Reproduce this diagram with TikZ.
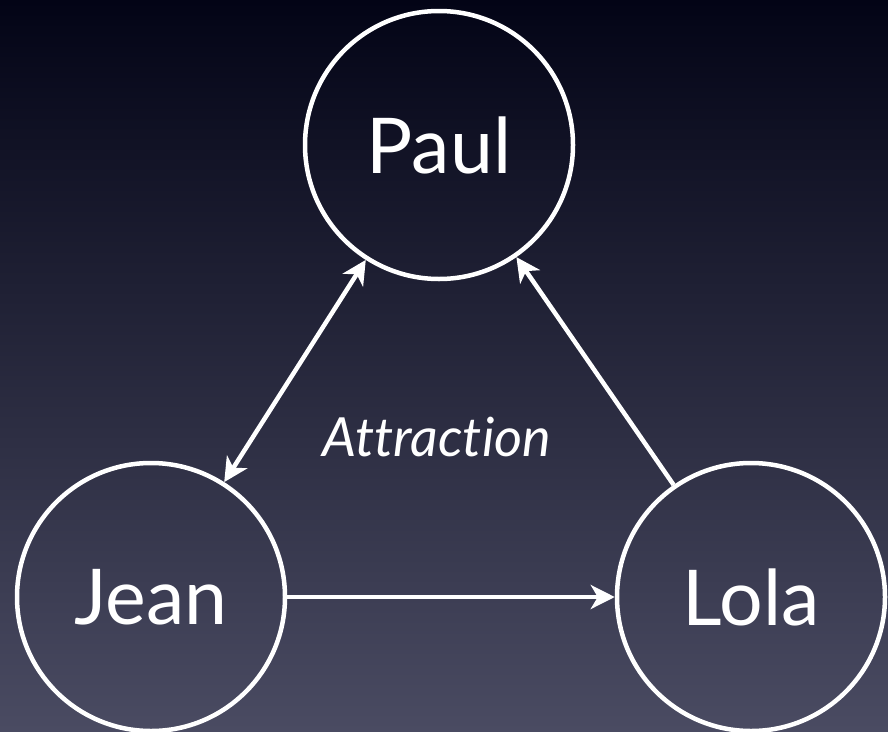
\documentclass[tikz,border=0pt]{standalone}
\usepackage{fontspec}
\setmainfont{Lato}[Ligatures=NoCommon]
\usetikzlibrary{arrows.meta}
\definecolor{bgtop}{RGB}{3,4,22}
\definecolor{bgbottom}{RGB}{74,75,98}
\begin{document}
\begin{tikzpicture}
  [x=1pt, y=-1pt,
  person/.style={circle, draw=white, line width=4.5pt, text=white, inner sep=0pt,
    minimum size=268pt, font=\fontsize{77}{90}\selectfont},
  relation/.style={text=white, font=\fontsize{54}{60}\selectfont\itshape},
  line/.style={draw=white, line width=4.5pt, -{Stealth[length=24pt,width=24pt,inset=7pt]}}]
  % background
  \shade[top color=bgtop, bottom color=bgbottom] (0,0) rectangle (888,731);
  \useasboundingbox (0,0) rectangle (888,731);

  \node [person] (paul) at (439,145) {Paul};
  \node [person] (jean) at (151,597) {Jean};
  \node [person] (lola) at (751,597) {Lola};
  \node [relation] (attraction) at (437,437) {Attraction};

  \begin{scope}[every path/.style=line]
    \path [{Stealth[length=24pt,width=24pt,inset=7pt]}-{Stealth[length=24pt,width=24pt,inset=7pt]}] (jean) -- (paul);
    \path (lola) -- (paul);
    \path (jean) -- (lola);
  \end{scope}
\end{tikzpicture}
\end{document}
